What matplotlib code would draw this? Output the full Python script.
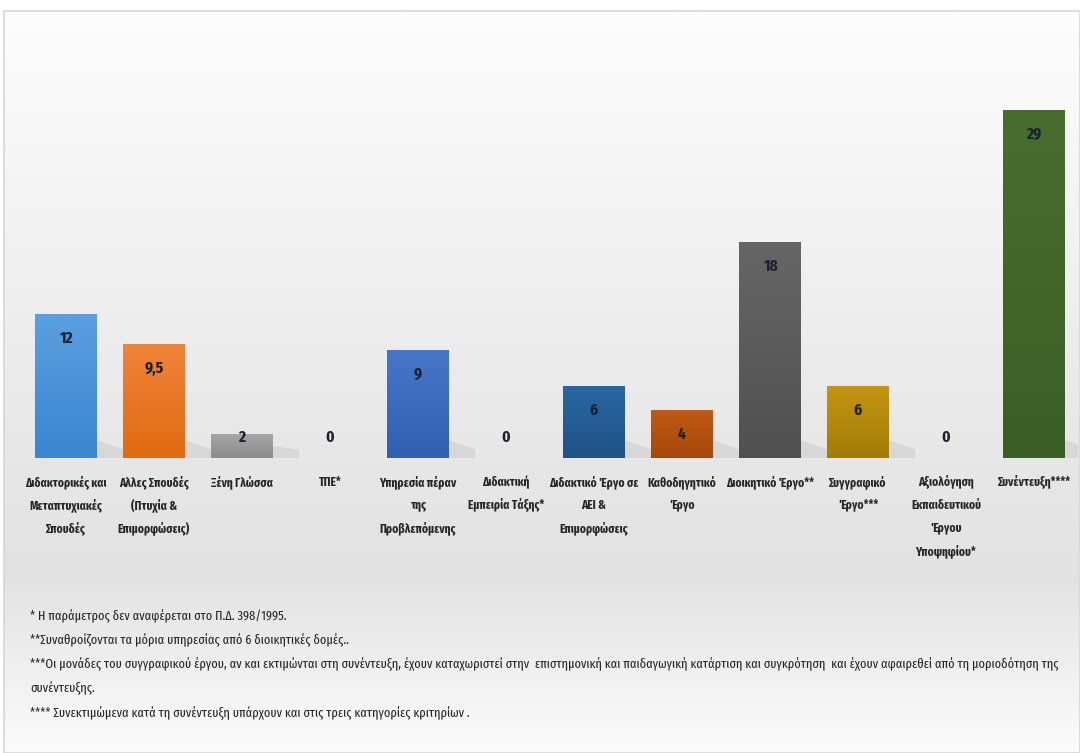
import matplotlib
matplotlib.use("Agg")
import matplotlib.pyplot as plt
import numpy as np
from matplotlib.colors import LinearSegmentedColormap
from matplotlib.patches import Rectangle, Polygon
from matplotlib.transforms import blended_transform_factory

categories = [
    "Διδακτορικές και\nΜεταπτυχιακές\nΣπουδές",
    "Αλλες Σπουδές\n(Πτυχία &\nΕπιμορφώσεις)",
    "Ξένη Γλώσσα",
    "ΤΠΕ*",
    "Υπηρεσία πέραν\nτης\nΠροβλεπόμενης",
    "Διδακτική\nΕμπειρία Τάξης*",
    "Διδακτικό Έργο σε\nΑΕΙ &\nΕπιμορφώσεις",
    "Καθοδηγητικό\nΈργο",
    "Διοικητικό Έργο**",
    "Συγγραφικό\nΈργο***",
    "Αξιολόγηση\nΕκπαιδευτικού\nΈργου\nΥποψηφίου*",
    "Συνέντευξη****",
]
values = [12, 9.5, 2, 0, 9, 0, 6, 4, 18, 6, 0, 29]
value_labels = ["12", "9,5", "2", "0", "9", "0", "6", "4", "18", "6", "0", "29"]
top_colors = ["#5a9fe0", "#f08438", "#a6a6a6", "#a6a6a6", "#4775c8", "#a6a6a6",
              "#2a67a0", "#c05a14", "#666666", "#c39612", "#a6a6a6", "#476e2e"]
bot_colors = ["#3a86d0", "#e06a12", "#8c8c8c", "#8c8c8c", "#3160b0", "#8c8c8c",
              "#1f5287", "#a8470a", "#505050", "#a27c05", "#8c8c8c", "#3b5e25"]
footnotes = [
    "* Η παράμετρος δεν αναφέρεται στο Π.Δ. 398/1995.",
    "**Συναθροίζονται τα μόρια υπηρεσίας από 6 διοικητικές δομές..",
    "***Οι μονάδες του συγγραφικού έργου, αν και εκτιμώνται στη συνέντευξη, έχουν καταχωριστεί στην  επιστημονική και παιδαγωγική κατάρτιση και συγκρότηση  και έχουν αφαιρεθεί από τη μοριοδότηση της",
    "συνέντευξης.",
    "**** Συνεκτιμώμενα κατά τη συνέντευξη υπάρχουν και στις τρεις κατηγορίες κριτηρίων .",
]

FAM = ["Fira Sans Extra Condensed", "DejaVu Sans"]
plt.rcParams["font.family"] = FAM

W, H = 1080, 753
fig = plt.figure(figsize=(W / 100, H / 100), dpi=100)
renderer = fig.canvas.get_renderer()

def width_at(text, size, weight):
    t = fig.text(0, 0, text, fontsize=size, fontweight=weight)
    w = t.get_window_extent(renderer).width
    t.remove()
    return w

# font sizes tuned to the reference text widths
cat_size = 10 * 82.0 / width_at("Διδακτορικές και", 10, "bold")
foot_size = 10 * 1030.0 / width_at(footnotes[2], 10, "normal")
val_size = cat_size * 1.35

# background
bg = fig.add_axes([0, 0, 1, 1], zorder=0)
bg.set_xlim(0, W)
bg.set_ylim(H, 0)
bg.axis("off")
ys = np.linspace(0, 1, 400)
stops = [(0.0, "#fdfdfd"), (0.45, "#ececec"), (0.76, "#e2e2e2"), (1.0, "#fbfbfb")]
cmap = LinearSegmentedColormap.from_list("bg", stops)
bg.imshow(ys[:, None], extent=[4, W, H, 11], cmap=cmap, aspect="auto", zorder=0)
bg.add_patch(Rectangle((4, 11), W - 4, H - 11, fill=False, edgecolor="#d6d6d6", lw=1.2, zorder=1))

# main axes
x0, x1 = 22, 1078
base_px, px_per = 458, 12.0
ymax = 31
top_px = base_px - px_per * ymax
ax = fig.add_axes([x0 / W, (H - base_px) / H, (x1 - x0) / W, (base_px - top_px) / H], zorder=2)
ax.patch.set_alpha(0)
n = len(values)
xs = np.arange(n)

bars = ax.bar(xs, values, width=0.7, color=top_colors, zorder=3)
for b, tc, bc, v in zip(bars, top_colors, bot_colors, values):
    if v <= 0:
        continue
    x, w = b.get_x(), b.get_width()
    sh = Polygon([(x + w, 0), (x + w, min(v, 3.0) * 0.5), (x + w + 0.3, 0.7), (x + w + 0.3, 0)],
                 closed=True, facecolor="#8f8f8f", alpha=0.18, lw=0, zorder=2)
    ax.add_patch(sh)
    g = LinearSegmentedColormap.from_list("g", [bc, tc])
    im = ax.imshow(np.linspace(0, 1, 100)[:, None], extent=[x, x + w, 0, v], origin="lower",
                   cmap=g, aspect="auto", zorder=4)
    im.set_clip_path(b)
ax.set_aspect("auto")
ax.set_xlim(-0.5, n - 0.5)
ax.set_ylim(0, ymax)
ax.axis("off")

for i, (v, lab) in enumerate(zip(values, value_labels)):
    yl = max(v - 2.0, 1.75)
    ax.text(i, yl, lab, ha="center", va="center", fontsize=val_size, fontweight="bold",
            color="#1c2230", zorder=6)

trans = blended_transform_factory(ax.transData, bg.transData)
line_y0, line_step = 482, 23
for i, c in enumerate(categories):
    for k, line in enumerate(c.split("\n")):
        bg.text(i, line_y0 + k * line_step, line, transform=trans, ha="center", va="center",
                fontsize=cat_size, fontweight="bold", color="#262626", zorder=6)

foot_y = [616, 640, 664, 688, 713]
for t, y in zip(footnotes, foot_y):
    bg.text(30, y, t, ha="left", va="center", fontsize=foot_size, color="#262626", zorder=5)

fig.savefig("out.png", dpi=100)
